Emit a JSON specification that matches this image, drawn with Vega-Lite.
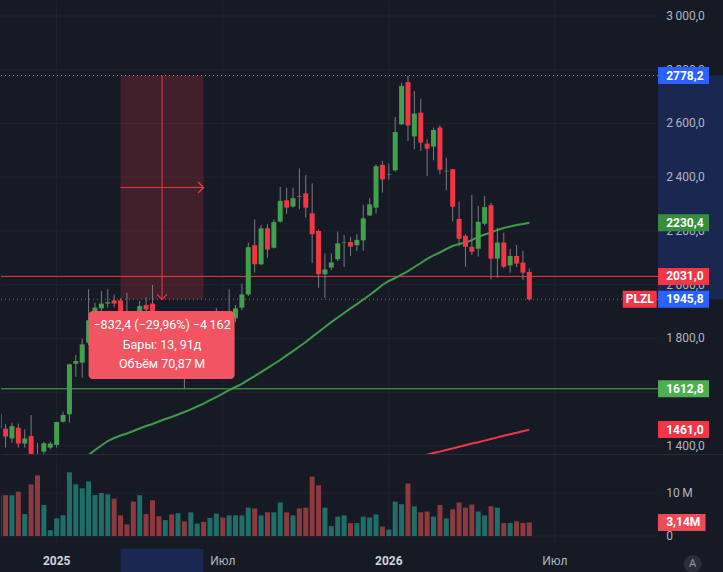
{
"$schema":"https://vega.github.io/schema/vega-lite/v6.json",
"background":"#161a25",
"padding":0,
"spacing":0,
"config":{"view":{"stroke":null},"font":"Roboto"},
"resolve":{"scale":{"x":"independent","y":"independent"}},
"datasets":{
"candles":[
{"date":"2024-10-28","open":1520,"high":1535,"low":1455,"close":1465,"vol":9.5},
{"date":"2024-11-04","open":1464,"high":1481,"low":1394,"close":1435,"vol":9.5},
{"date":"2024-11-11","open":1428,"high":1487,"low":1412,"close":1474,"vol":9.5},
{"date":"2024-11-18","open":1468,"high":1483,"low":1394,"close":1409,"vol":10.3},
{"date":"2024-11-25","open":1409,"high":1462,"low":1394,"close":1428,"vol":5.1},
{"date":"2024-12-02","open":1437,"high":1515,"low":1350,"close":1362,"vol":12.0},
{"date":"2024-12-09","open":1362,"high":1412,"low":1330,"close":1340,"vol":14.1},
{"date":"2024-12-16","open":1379,"high":1416,"low":1369,"close":1410,"vol":7.2},
{"date":"2024-12-23","open":1394,"high":1416,"low":1388,"close":1409,"vol":1.35},
{"date":"2024-12-30","open":1404,"high":1490,"low":1394,"close":1489,"vol":4.1},
{"date":"2025-01-06","open":1490,"high":1528,"low":1487,"close":1515,"vol":4.8},
{"date":"2025-01-13","open":1518,"high":1706,"low":1487,"close":1704,"vol":14.8},
{"date":"2025-01-20","open":1706,"high":1739,"low":1657,"close":1716,"vol":12.0},
{"date":"2025-01-27","open":1710,"high":1799,"low":1654,"close":1778,"vol":11.1},
{"date":"2025-02-03","open":1784,"high":1983,"low":1775,"close":1868,"vol":12.7},
{"date":"2025-02-10","open":1868,"high":1933,"low":1850,"close":1915,"vol":9.5},
{"date":"2025-02-17","open":1912,"high":1977,"low":1895,"close":1930,"vol":10.0},
{"date":"2025-02-24","open":1930,"high":1983,"low":1915,"close":1935,"vol":9.7},
{"date":"2025-03-03","open":1942,"high":1964,"low":1915,"close":1930,"vol":8.7},
{"date":"2025-03-10","open":1942,"high":1950,"low":1865,"close":1880,"vol":4.8},
{"date":"2025-03-17","open":1885,"high":1970,"low":1840,"close":1860,"vol":2.7},
{"date":"2025-03-24","open":1870,"high":1895,"low":1820,"close":1840,"vol":8.0},
{"date":"2025-03-31","open":1840,"high":1940,"low":1830,"close":1921,"vol":9.5},
{"date":"2025-04-07","open":1925,"high":1954,"low":1895,"close":1908,"vol":5.1},
{"date":"2025-04-14","open":1930,"high":1999,"low":1850,"close":1870,"vol":8.3},
{"date":"2025-04-21","open":1870,"high":1890,"low":1800,"close":1820,"vol":4.6},
{"date":"2025-04-28","open":1820,"high":1880,"low":1790,"close":1850,"vol":3.7},
{"date":"2025-05-05","open":1850,"high":1870,"low":1740,"close":1780,"vol":5.0},
{"date":"2025-05-12","open":1780,"high":1830,"low":1700,"close":1800,"vol":5.3},
{"date":"2025-05-19","open":1800,"high":1820,"low":1612.8,"close":1730,"vol":3.4},
{"date":"2025-05-26","open":1730,"high":1810,"low":1700,"close":1790,"vol":5.5},
{"date":"2025-06-02","open":1790,"high":1860,"low":1770,"close":1830,"vol":2.9},
{"date":"2025-06-09","open":1830,"high":1870,"low":1780,"close":1800,"vol":3.3},
{"date":"2025-06-16","open":1800,"high":1880,"low":1785,"close":1850,"vol":4.2},
{"date":"2025-06-23","open":1850,"high":1914,"low":1830,"close":1880,"vol":5.2},
{"date":"2025-06-30","open":1880,"high":1900,"low":1840,"close":1860,"vol":4.3},
{"date":"2025-07-07","open":1860,"high":1983,"low":1845,"close":1880,"vol":4.8},
{"date":"2025-07-14","open":1875,"high":1925,"low":1860,"close":1912,"vol":4.8},
{"date":"2025-07-21","open":1915,"high":2004,"low":1905,"close":1964,"vol":4.8},
{"date":"2025-07-28","open":1964,"high":2157,"low":1958,"close":2140,"vol":6.6},
{"date":"2025-08-04","open":2147,"high":2243,"low":2045,"close":2076,"vol":6.4},
{"date":"2025-08-11","open":2076,"high":2222,"low":2073,"close":2210,"vol":4.8},
{"date":"2025-08-18","open":2210,"high":2225,"low":2101,"close":2131,"vol":5.5},
{"date":"2025-08-25","open":2138,"high":2243,"low":2135,"close":2233,"vol":5.5},
{"date":"2025-09-01","open":2235,"high":2364,"low":2231,"close":2312,"vol":7.8},
{"date":"2025-09-08","open":2314,"high":2361,"low":2264,"close":2287,"vol":5.5},
{"date":"2025-09-15","open":2291,"high":2361,"low":2287,"close":2322,"vol":4.8},
{"date":"2025-09-22","open":2330,"high":2433,"low":2281,"close":2327,"vol":6.4},
{"date":"2025-09-29","open":2340,"high":2408,"low":2250,"close":2287,"vol":6.6},
{"date":"2025-10-06","open":2266,"high":2377,"low":2080,"close":2188,"vol":13.8},
{"date":"2025-10-13","open":2200,"high":2206,"low":1989,"close":2039,"vol":11.8},
{"date":"2025-10-20","open":2039,"high":2116,"low":1950,"close":2057,"vol":6.6},
{"date":"2025-10-27","open":2064,"high":2116,"low":2054,"close":2083,"vol":2.3},
{"date":"2025-11-03","open":2095,"high":2198,"low":2088,"close":2154,"vol":4.5},
{"date":"2025-11-10","open":2157,"high":2185,"low":2066,"close":2159,"vol":4.8},
{"date":"2025-11-17","open":2159,"high":2178,"low":2107,"close":2142,"vol":3.0},
{"date":"2025-11-24","open":2147,"high":2188,"low":2126,"close":2167,"vol":3.0},
{"date":"2025-12-01","open":2165,"high":2297,"low":2126,"close":2247,"vol":4.5},
{"date":"2025-12-08","open":2258,"high":2322,"low":2256,"close":2299,"vol":4.3},
{"date":"2025-12-15","open":2287,"high":2448,"low":2265,"close":2441,"vol":5.0},
{"date":"2025-12-22","open":2446,"high":2461,"low":2343,"close":2392,"vol":2.2},
{"date":"2025-12-29","open":2410,"high":2451,"low":2390,"close":2412,"vol":1.5},
{"date":"2026-01-05","open":2426,"high":2624,"low":2421,"close":2568,"vol":8.0},
{"date":"2026-01-12","open":2597,"high":2752,"low":2594,"close":2740,"vol":7.4},
{"date":"2026-01-19","open":2754,"high":2778.2,"low":2535,"close":2593,"vol":12.2},
{"date":"2026-01-26","open":2552,"high":2721,"low":2504,"close":2637,"vol":6.9},
{"date":"2026-02-02","open":2640,"high":2692,"low":2498,"close":2529,"vol":5.5},
{"date":"2026-02-09","open":2525,"high":2541,"low":2405,"close":2506,"vol":5.7},
{"date":"2026-02-16","open":2514,"high":2585,"low":2463,"close":2576,"vol":4.5},
{"date":"2026-02-23","open":2585,"high":2593,"low":2411,"close":2428,"vol":7.2},
{"date":"2026-03-02","open":2422,"high":2473,"low":2351,"close":2424,"vol":4.1},
{"date":"2026-03-09","open":2430,"high":2430,"low":2235,"close":2290,"vol":6.2},
{"date":"2026-03-16","open":2245,"high":2309,"low":2143,"close":2171,"vol":7.8},
{"date":"2026-03-23","open":2182,"high":2188,"low":2068,"close":2141,"vol":6.6},
{"date":"2026-03-30","open":2141,"high":2334,"low":2111,"close":2123,"vol":7.3},
{"date":"2026-04-06","open":2134,"high":2293,"low":2105,"close":2234,"vol":5.7},
{"date":"2026-04-13","open":2227,"high":2330,"low":2221,"close":2289,"vol":4.8},
{"date":"2026-04-20","open":2296,"high":2305,"low":2020,"close":2097,"vol":6.9},
{"date":"2026-04-27","open":2097,"high":2212,"low":2026,"close":2157,"vol":6.6},
{"date":"2026-05-04","open":2157,"high":2194,"low":2061,"close":2067,"vol":3.0},
{"date":"2026-05-11","open":2072,"high":2134,"low":2045,"close":2107,"vol":3.0},
{"date":"2026-05-18","open":2107,"high":2148,"low":2066,"close":2079,"vol":3.4},
{"date":"2026-05-25","open":2082,"high":2126,"low":2017,"close":2045,"vol":3.0},
{"date":"2026-06-01","open":2048,"high":2060,"low":1940,"close":1945.8,"vol":3.14}
],
"ma50":[
{"date":"2025-01-27","ma":1345},{"date":"2025-02-03","ma":1366},{"date":"2025-02-10","ma":1385},{"date":"2025-02-17","ma":1402},{"date":"2025-02-24","ma":1418.6},{"date":"2025-03-03","ma":1429.8},{"date":"2025-03-10","ma":1439},{"date":"2025-03-17","ma":1446.5},{"date":"2025-03-24","ma":1455.8},{"date":"2025-03-31","ma":1465},{"date":"2025-04-07","ma":1474.4},{"date":"2025-04-14","ma":1482},{"date":"2025-04-21","ma":1491},{"date":"2025-04-28","ma":1500.5},{"date":"2025-05-05","ma":1508},{"date":"2025-05-12","ma":1517},{"date":"2025-05-19","ma":1526.5},{"date":"2025-05-26","ma":1536},{"date":"2025-06-02","ma":1547},{"date":"2025-06-09","ma":1558},{"date":"2025-06-16","ma":1571},{"date":"2025-06-23","ma":1582},{"date":"2025-06-30","ma":1595},{"date":"2025-07-07","ma":1608},{"date":"2025-07-14","ma":1619.5},{"date":"2025-07-21","ma":1631},{"date":"2025-07-28","ma":1646},{"date":"2025-08-04","ma":1660},{"date":"2025-08-11","ma":1675},{"date":"2025-08-18","ma":1690},{"date":"2025-08-25","ma":1705},{"date":"2025-09-01","ma":1720},{"date":"2025-09-08","ma":1737},{"date":"2025-09-15","ma":1753},{"date":"2025-09-22","ma":1770},{"date":"2025-09-29","ma":1787},{"date":"2025-10-06","ma":1806},{"date":"2025-10-13","ma":1824},{"date":"2025-10-20","ma":1843},{"date":"2025-10-27","ma":1861},{"date":"2025-11-03","ma":1878},{"date":"2025-11-10","ma":1895},{"date":"2025-11-17","ma":1912},{"date":"2025-11-24","ma":1928},{"date":"2025-12-01","ma":1945},{"date":"2025-12-08","ma":1962},{"date":"2025-12-15","ma":1980},{"date":"2025-12-22","ma":1999},{"date":"2025-12-29","ma":2014},{"date":"2026-01-05","ma":2025},{"date":"2026-01-12","ma":2038},{"date":"2026-01-19","ma":2051},{"date":"2026-01-26","ma":2066},{"date":"2026-02-02","ma":2081},{"date":"2026-02-09","ma":2096},{"date":"2026-02-16","ma":2109},{"date":"2026-02-23","ma":2120},{"date":"2026-03-02","ma":2133},{"date":"2026-03-09","ma":2144},{"date":"2026-03-16","ma":2152},{"date":"2026-03-23","ma":2157},{"date":"2026-03-30","ma":2166},{"date":"2026-04-06","ma":2178},{"date":"2026-04-13","ma":2187},{"date":"2026-04-20","ma":2194},{"date":"2026-04-27","ma":2204},{"date":"2026-05-04","ma":2211},{"date":"2026-05-11","ma":2217},{"date":"2026-05-18","ma":2222},{"date":"2026-05-25","ma":2226},{"date":"2026-06-01","ma":2230.4}
],
"ma200":[
{"date":"2026-02-02","ma":1362},{"date":"2026-02-09","ma":1368},{"date":"2026-02-16","ma":1374},{"date":"2026-02-23","ma":1379},{"date":"2026-03-02","ma":1385},{"date":"2026-03-09","ma":1391},{"date":"2026-03-16","ma":1397},{"date":"2026-03-23","ma":1403},{"date":"2026-03-30","ma":1409},{"date":"2026-04-06","ma":1414},{"date":"2026-04-13","ma":1420},{"date":"2026-04-20","ma":1426},{"date":"2026-04-27","ma":1432},{"date":"2026-05-04","ma":1438},{"date":"2026-05-11","ma":1444},{"date":"2026-05-18","ma":1449},{"date":"2026-05-25","ma":1455},{"date":"2026-06-01","ma":1461}
],
"grid":[{"p":3000},{"p":2800},{"p":2600},{"p":2400},{"p":2200},{"p":2000},{"p":1800},{"p":1600},{"p":1400}],
"ticks":[
{"p":3000,"label":"3\u2009000,0"},{"p":2800,"label":"2\u2009800,0"},{"p":2600,"label":"2\u2009600,0"},{"p":2400,"label":"2\u2009400,0"},{"p":2200,"label":"2\u2009200,0"},{"p":2000,"label":"2\u2009000,0"},{"p":1800,"label":"1\u2009800,0"},{"p":1400,"label":"1\u2009400,0"}
],
"vticks":[{"v":0,"label":"0"},{"v":10,"label":"10\u2009M"}],
"tgrid":[{"date":"2024-12-30"},{"date":"2025-06-30"},{"date":"2025-12-29"},{"date":"2026-06-29"}],
"years":[{"date":"2024-12-30","label":"2025"},{"date":"2025-12-29","label":"2026"}],
"months":[{"date":"2025-06-30","label":"Июл"},{"date":"2026-06-29","label":"Июл"}],
"tags":[
{"value":2778.2,"label":"2778,2","kind":"measure"},
{"value":2230.4,"label":"2230,4","kind":"ma50"},
{"value":2031.0,"label":"2031,0","kind":"level_red"},
{"value":1945.8,"label":"1945,8","kind":"measure"},
{"value":1612.8,"label":"1612,8","kind":"level_green"},
{"value":1461.0,"label":"1461,0","kind":"ma200"}
]
},
"vconcat":[
{"width":657,"height":454,"layer":[
{"data":{"name":"grid"},"mark":{"type":"rule","color":"#1f2330","strokeWidth":1},
 "encoding":{"y":{"field":"p","type":"quantitative","scale":{"domain":[1366.5,3055.8],"nice":false,"zero":false,"padding":0},"axis":null}}},
{"data":{"name":"tgrid"},"mark":{"type":"rule","color":"#1f2330","strokeWidth":1},
 "encoding":{"x":{"field":"date","type":"temporal","scale":{"type":"utc","domain":[{"year":2024,"month":10,"date":30,"utc":true},{"year":2026,"month":10,"date":20,"utc":true}],"nice":false,"padding":0},"axis":null}}},
{"data":{"values":[{}]},"mark":{"type":"rect","color":"#f23645","opacity":0.2},
 "encoding":{"x":{"datum":{"year":2025,"month":3,"date":10,"utc":true},"type":"temporal","scale":{"type":"utc","domain":[{"year":2024,"month":10,"date":30,"utc":true},{"year":2026,"month":10,"date":20,"utc":true}],"nice":false,"padding":0},"axis":null},
  "x2":{"datum":{"year":2025,"month":6,"date":9,"utc":true}},
  "y":{"datum":2778.2,"type":"quantitative","scale":{"domain":[1366.5,3055.8],"nice":false,"zero":false,"padding":0},"axis":null},
  "y2":{"datum":1945.8}}},
{"data":{"values":[{}]},"mark":{"type":"rule","color":"#f23645","strokeWidth":1},
 "encoding":{"y":{"datum":2031,"type":"quantitative","scale":{"domain":[1366.5,3055.8],"nice":false,"zero":false,"padding":0},"axis":null}}},
{"data":{"values":[{}]},"mark":{"type":"rule","color":"#4caf50","strokeWidth":1},
 "encoding":{"y":{"datum":1612.8,"type":"quantitative","scale":{"domain":[1366.5,3055.8],"nice":false,"zero":false,"padding":0},"axis":null}}},
{"data":{"values":[{}]},"mark":{"type":"rule","color":"#9598a1","strokeWidth":1,"strokeDash":[1,3]},
 "encoding":{"y":{"datum":2778.2,"type":"quantitative","scale":{"domain":[1366.5,3055.8],"nice":false,"zero":false,"padding":0},"axis":null}}},
{"data":{"values":[{}]},"mark":{"type":"rule","color":"#f23645","strokeWidth":1,"strokeDash":[1,3]},
 "encoding":{"y":{"datum":1945.8,"type":"quantitative","scale":{"domain":[1366.5,3055.8],"nice":false,"zero":false,"padding":0},"axis":null}}},
{"data":{"name":"ma50"},"mark":{"type":"line","color":"#3f9b49","strokeWidth":2,"clip":true},
 "encoding":{"x":{"field":"date","type":"temporal","scale":{"type":"utc","domain":[{"year":2024,"month":10,"date":30,"utc":true},{"year":2026,"month":10,"date":20,"utc":true}],"nice":false,"padding":0},"axis":null},
  "y":{"field":"ma","type":"quantitative","scale":{"domain":[1366.5,3055.8],"nice":false,"zero":false,"padding":0},"axis":null}}},
{"data":{"name":"ma200"},"mark":{"type":"line","color":"#f23645","strokeWidth":2,"clip":true},
 "encoding":{"x":{"field":"date","type":"temporal","scale":{"type":"utc","domain":[{"year":2024,"month":10,"date":30,"utc":true},{"year":2026,"month":10,"date":20,"utc":true}],"nice":false,"padding":0},"axis":null},
  "y":{"field":"ma","type":"quantitative","scale":{"domain":[1366.5,3055.8],"nice":false,"zero":false,"padding":0},"axis":null}}},
{"data":{"name":"candles"},"mark":{"type":"rule","color":"#787b86","strokeWidth":1,"clip":true},
 "encoding":{"x":{"field":"date","type":"temporal","scale":{"type":"utc","domain":[{"year":2024,"month":10,"date":30,"utc":true},{"year":2026,"month":10,"date":20,"utc":true}],"nice":false,"padding":0},"axis":null},
  "y":{"field":"low","type":"quantitative","scale":{"domain":[1366.5,3055.8],"nice":false,"zero":false,"padding":0},"axis":null},
  "y2":{"field":"high"}}},
{"data":{"name":"candles"},"mark":{"type":"bar","size":5,"clip":true},
 "encoding":{"x":{"field":"date","type":"temporal","scale":{"type":"utc","domain":[{"year":2024,"month":10,"date":30,"utc":true},{"year":2026,"month":10,"date":20,"utc":true}],"nice":false,"padding":0},"axis":null},
  "y":{"field":"open","type":"quantitative","scale":{"domain":[1366.5,3055.8],"nice":false,"zero":false,"padding":0},"axis":null},
  "y2":{"field":"close"},
  "color":{"condition":{"test":"datum.close >= datum.open","value":"#42a04d"},"value":"#f23645"}}},
{"data":{"values":[{}]},"mark":{"type":"rule","color":"#f23645","strokeWidth":1},
 "encoding":{"x":{"datum":{"year":2025,"month":4,"date":24,"hours":12,"utc":true},"type":"temporal","scale":{"type":"utc","domain":[{"year":2024,"month":10,"date":30,"utc":true},{"year":2026,"month":10,"date":20,"utc":true}],"nice":false,"padding":0},"axis":null},
  "y":{"datum":2778.2,"type":"quantitative","scale":{"domain":[1366.5,3055.8],"nice":false,"zero":false,"padding":0},"axis":null},
  "y2":{"datum":1945.8}}},
{"data":{"values":[{}]},"mark":{"type":"rule","color":"#f23645","strokeWidth":1},
 "encoding":{"x":{"datum":{"year":2025,"month":3,"date":10,"utc":true},"type":"temporal","scale":{"type":"utc","domain":[{"year":2024,"month":10,"date":30,"utc":true},{"year":2026,"month":10,"date":20,"utc":true}],"nice":false,"padding":0},"axis":null},
  "x2":{"datum":{"year":2025,"month":6,"date":9,"utc":true}},
  "y":{"datum":2362,"type":"quantitative","scale":{"domain":[1366.5,3055.8],"nice":false,"zero":false,"padding":0},"axis":null}}},
{"data":{"values":[{}]},"mark":{"type":"point","shape":"M-1,-1L0,0L1,-1","filled":false,"size":100,"color":"#f23645","strokeWidth":1.2,"opacity":1},
 "encoding":{"x":{"datum":{"year":2025,"month":4,"date":24,"hours":12,"utc":true},"type":"temporal","scale":{"type":"utc","domain":[{"year":2024,"month":10,"date":30,"utc":true},{"year":2026,"month":10,"date":20,"utc":true}],"nice":false,"padding":0},"axis":null},
  "y":{"datum":1945.8,"type":"quantitative","scale":{"domain":[1366.5,3055.8],"nice":false,"zero":false,"padding":0},"axis":null}}},
{"data":{"values":[{}]},"mark":{"type":"point","shape":"M-1,-1L0,0L-1,1","filled":false,"size":121,"color":"#f23645","strokeWidth":1.2,"opacity":1},
 "encoding":{"x":{"datum":{"year":2025,"month":6,"date":9,"utc":true},"type":"temporal","scale":{"type":"utc","domain":[{"year":2024,"month":10,"date":30,"utc":true},{"year":2026,"month":10,"date":20,"utc":true}],"nice":false,"padding":0},"axis":null},
  "y":{"datum":2362,"type":"quantitative","scale":{"domain":[1366.5,3055.8],"nice":false,"zero":false,"padding":0},"axis":null}}},
{"data":{"values":[{}]},"mark":{"type":"rect","color":"#f25461","cornerRadius":4},
 "encoding":{"x":{"datum":{"year":2025,"month":2,"date":3,"utc":true},"type":"temporal","scale":{"type":"utc","domain":[{"year":2024,"month":10,"date":30,"utc":true},{"year":2026,"month":10,"date":20,"utc":true}],"nice":false,"padding":0},"axis":null},
  "x2":{"datum":{"year":2025,"month":7,"date":13,"utc":true}},
  "y":{"datum":1902.3,"type":"quantitative","scale":{"domain":[1366.5,3055.8],"nice":false,"zero":false,"padding":0},"axis":null},
  "y2":{"datum":1649.3}}},
{"data":{"values":[{}]},"mark":{"type":"text","color":"#ffffff","fontSize":12.5,"align":"center","baseline":"middle","lineHeight":19.5},
 "encoding":{"x":{"datum":{"year":2025,"month":4,"date":24,"hours":12,"utc":true},"type":"temporal","scale":{"type":"utc","domain":[{"year":2024,"month":10,"date":30,"utc":true},{"year":2026,"month":10,"date":20,"utc":true}],"nice":false,"padding":0},"axis":null},
  "y":{"datum":1850.2,"type":"quantitative","scale":{"domain":[1366.5,3055.8],"nice":false,"zero":false,"padding":0},"axis":null},
  "text":{"value":["\u2212832,4 (\u221229,96%) \u22124\u2009162","Бары: 13, 91д","Объём 70,87\u2009M"]}}},
{"data":{"values":[{}]},"mark":{"type":"rect","color":"#1a2851"},
 "encoding":{"x":{"datum":{"year":2026,"month":10,"date":20,"utc":true},"type":"temporal","scale":{"type":"utc","domain":[{"year":2024,"month":10,"date":30,"utc":true},{"year":2026,"month":10,"date":20,"utc":true}],"nice":false,"padding":0},"axis":null},
  "x2":{"datum":{"year":2026,"month":12,"date":31,"utc":true}},
  "y":{"datum":2778.2,"type":"quantitative","scale":{"domain":[1366.5,3055.8],"nice":false,"zero":false,"padding":0},"axis":null},
  "y2":{"datum":1945.8}}},
{"data":{"name":"ticks"},"mark":{"type":"text","color":"#b2b5be","fontSize":12,"align":"left","baseline":"middle"},
 "encoding":{"x":{"datum":{"year":2026,"month":10,"date":29,"utc":true},"type":"temporal","scale":{"type":"utc","domain":[{"year":2024,"month":10,"date":30,"utc":true},{"year":2026,"month":10,"date":20,"utc":true}],"nice":false,"padding":0},"axis":null},
  "y":{"field":"p","type":"quantitative","scale":{"domain":[1366.5,3055.8],"nice":false,"zero":false,"padding":0},"axis":null},
  "text":{"field":"label"}}},
{"data":{"name":"tags"},"mark":{"type":"point","shape":"M-3,-1H3V1H-3Z","filled":true,"size":289,"opacity":1},
 "encoding":{"x":{"datum":{"year":2026,"month":11,"date":17,"utc":true},"type":"temporal","scale":{"type":"utc","domain":[{"year":2024,"month":10,"date":30,"utc":true},{"year":2026,"month":10,"date":20,"utc":true}],"nice":false,"padding":0},"axis":null},
  "y":{"field":"value","type":"quantitative","scale":{"domain":[1366.5,3055.8],"nice":false,"zero":false,"padding":0},"axis":null},
  "color":{"field":"kind","type":"nominal","legend":null,"scale":{"domain":["measure","ma50","level_red","level_green","ma200"],"range":["#2962ff","#388e3c","#f23645","#4caf50","#f23645"]}}}},
{"data":{"name":"tags"},"mark":{"type":"text","color":"#ffffff","fontSize":12,"fontWeight":"bold","align":"left","baseline":"middle"},
 "encoding":{"x":{"datum":{"year":2026,"month":10,"date":29,"utc":true},"type":"temporal","scale":{"type":"utc","domain":[{"year":2024,"month":10,"date":30,"utc":true},{"year":2026,"month":10,"date":20,"utc":true}],"nice":false,"padding":0},"axis":null},
  "y":{"field":"value","type":"quantitative","scale":{"domain":[1366.5,3055.8],"nice":false,"zero":false,"padding":0},"axis":null},
  "text":{"field":"label"}}},
{"data":{"values":[{}]},"mark":{"type":"point","shape":"M-2,-1H2V1H-2Z","filled":true,"size":289,"color":"#f23645","opacity":1},
 "encoding":{"x":{"datum":{"year":2026,"month":9,"date":30,"utc":true},"type":"temporal","scale":{"type":"utc","domain":[{"year":2024,"month":10,"date":30,"utc":true},{"year":2026,"month":10,"date":20,"utc":true}],"nice":false,"padding":0},"axis":null},
  "y":{"datum":1945.8,"type":"quantitative","scale":{"domain":[1366.5,3055.8],"nice":false,"zero":false,"padding":0},"axis":null}}},
{"data":{"values":[{}]},"mark":{"type":"text","color":"#ffffff","fontSize":12,"fontWeight":"bold","align":"center","baseline":"middle"},
 "encoding":{"x":{"datum":{"year":2026,"month":9,"date":30,"utc":true},"type":"temporal","scale":{"type":"utc","domain":[{"year":2024,"month":10,"date":30,"utc":true},{"year":2026,"month":10,"date":20,"utc":true}],"nice":false,"padding":0},"axis":null},
  "y":{"datum":1945.8,"type":"quantitative","scale":{"domain":[1366.5,3055.8],"nice":false,"zero":false,"padding":0},"axis":null},
  "text":{"value":"PLZL"}}},
{"data":{"values":[{}]},"mark":{"type":"rule","color":"#2a2e39","strokeWidth":1},
 "encoding":{"x":{"datum":{"year":2024,"month":10,"date":30,"utc":true},"type":"temporal","scale":{"type":"utc","domain":[{"year":2024,"month":10,"date":30,"utc":true},{"year":2026,"month":10,"date":20,"utc":true}],"nice":false,"padding":0},"axis":null},
  "x2":{"datum":{"year":2026,"month":12,"date":31,"utc":true}},
  "y":{"datum":1368.4,"type":"quantitative","scale":{"domain":[1366.5,3055.8],"nice":false,"zero":false,"padding":0},"axis":null}}}
]},
{"width":657,"height":86,"layer":[
{"data":{"name":"vticks"},"mark":{"type":"rule","color":"#1f2330","strokeWidth":1},
 "encoding":{"y":{"field":"v","type":"quantitative","scale":{"domain":[-1.63,18.37],"nice":false,"zero":false,"padding":0},"axis":null}}},
{"data":{"name":"tgrid"},"mark":{"type":"rule","color":"#1f2330","strokeWidth":1},
 "encoding":{"x":{"field":"date","type":"temporal","scale":{"type":"utc","domain":[{"year":2024,"month":10,"date":30,"utc":true},{"year":2026,"month":10,"date":20,"utc":true}],"nice":false,"padding":0},"axis":null}}},
{"data":{"name":"candles"},"mark":{"type":"bar","size":5,"clip":true},
 "encoding":{"x":{"field":"date","type":"temporal","scale":{"type":"utc","domain":[{"year":2024,"month":10,"date":30,"utc":true},{"year":2026,"month":10,"date":20,"utc":true}],"nice":false,"padding":0},"axis":null},
  "y":{"field":"vol","type":"quantitative","scale":{"domain":[-1.63,18.37],"nice":false,"zero":false,"padding":0},"axis":null},
  "y2":{"datum":0},
  "color":{"condition":{"test":"datum.close >= datum.open","value":"#1f6e68"},"value":"#8c3a3f"}}},
{"data":{"name":"vticks"},"mark":{"type":"text","color":"#b2b5be","fontSize":12,"align":"left","baseline":"middle"},
 "encoding":{"x":{"datum":{"year":2026,"month":10,"date":29,"utc":true},"type":"temporal","scale":{"type":"utc","domain":[{"year":2024,"month":10,"date":30,"utc":true},{"year":2026,"month":10,"date":20,"utc":true}],"nice":false,"padding":0},"axis":null},
  "y":{"field":"v","type":"quantitative","scale":{"domain":[-1.63,18.37],"nice":false,"zero":false,"padding":0},"axis":null},
  "text":{"field":"label"}}},
{"data":{"values":[{}]},"mark":{"type":"point","shape":"M-2.8,-1H2.8V1H-2.8Z","filled":true,"size":289,"color":"#ef4a55","opacity":1},
 "encoding":{"x":{"datum":{"year":2026,"month":11,"date":15,"utc":true},"type":"temporal","scale":{"type":"utc","domain":[{"year":2024,"month":10,"date":30,"utc":true},{"year":2026,"month":10,"date":20,"utc":true}],"nice":false,"padding":0},"axis":null},
  "y":{"datum":3.14,"type":"quantitative","scale":{"domain":[-1.63,18.37],"nice":false,"zero":false,"padding":0},"axis":null}}},
{"data":{"values":[{}]},"mark":{"type":"text","color":"#ffffff","fontSize":12,"fontWeight":"bold","align":"left","baseline":"middle"},
 "encoding":{"x":{"datum":{"year":2026,"month":10,"date":29,"utc":true},"type":"temporal","scale":{"type":"utc","domain":[{"year":2024,"month":10,"date":30,"utc":true},{"year":2026,"month":10,"date":20,"utc":true}],"nice":false,"padding":0},"axis":null},
  "y":{"datum":3.14,"type":"quantitative","scale":{"domain":[-1.63,18.37],"nice":false,"zero":false,"padding":0},"axis":null},
  "text":{"value":"3,14M"}}},
{"data":{"values":[{}]},"mark":{"type":"rect","color":"#1a2851"},
 "encoding":{"x":{"datum":{"year":2025,"month":3,"date":10,"utc":true},"type":"temporal","scale":{"type":"utc","domain":[{"year":2024,"month":10,"date":30,"utc":true},{"year":2026,"month":10,"date":20,"utc":true}],"nice":false,"padding":0},"axis":null},
  "x2":{"datum":{"year":2025,"month":6,"date":9,"utc":true}},
  "y":{"datum":-3.0,"type":"quantitative","scale":{"domain":[-1.63,18.37],"nice":false,"zero":false,"padding":0},"axis":null},
  "y2":{"datum":-9.0}}},
{"data":{"name":"years"},"mark":{"type":"text","color":"#d1d4dc","fontSize":12,"fontWeight":"bold","align":"center","baseline":"middle"},
 "encoding":{"x":{"field":"date","type":"temporal","scale":{"type":"utc","domain":[{"year":2024,"month":10,"date":30,"utc":true},{"year":2026,"month":10,"date":20,"utc":true}],"nice":false,"padding":0},"axis":null},
  "y":{"datum":-5.81,"type":"quantitative","scale":{"domain":[-1.63,18.37],"nice":false,"zero":false,"padding":0},"axis":null},
  "text":{"field":"label"}}},
{"data":{"name":"months"},"mark":{"type":"text","color":"#b2b5be","fontSize":12,"align":"center","baseline":"middle"},
 "encoding":{"x":{"field":"date","type":"temporal","scale":{"type":"utc","domain":[{"year":2024,"month":10,"date":30,"utc":true},{"year":2026,"month":10,"date":20,"utc":true}],"nice":false,"padding":0},"axis":null},
  "y":{"datum":-5.81,"type":"quantitative","scale":{"domain":[-1.63,18.37],"nice":false,"zero":false,"padding":0},"axis":null},
  "text":{"field":"label"}}},
{"data":{"values":[{}]},"mark":{"type":"point","shape":"circle","filled":true,"size":324,"color":"#2a2e39","opacity":1},
 "encoding":{"x":{"datum":{"year":2026,"month":11,"date":27,"utc":true},"type":"temporal","scale":{"type":"utc","domain":[{"year":2024,"month":10,"date":30,"utc":true},{"year":2026,"month":10,"date":20,"utc":true}],"nice":false,"padding":0},"axis":null},
  "y":{"datum":-6.5,"type":"quantitative","scale":{"domain":[-1.63,18.37],"nice":false,"zero":false,"padding":0},"axis":null}}},
{"data":{"values":[{}]},"mark":{"type":"text","color":"#9598a1","fontSize":11,"align":"center","baseline":"middle"},
 "encoding":{"x":{"datum":{"year":2026,"month":11,"date":27,"utc":true},"type":"temporal","scale":{"type":"utc","domain":[{"year":2024,"month":10,"date":30,"utc":true},{"year":2026,"month":10,"date":20,"utc":true}],"nice":false,"padding":0},"axis":null},
  "y":{"datum":-6.5,"type":"quantitative","scale":{"domain":[-1.63,18.37],"nice":false,"zero":false,"padding":0},"axis":null},
  "text":{"value":"A"}}}
]}
]
}
